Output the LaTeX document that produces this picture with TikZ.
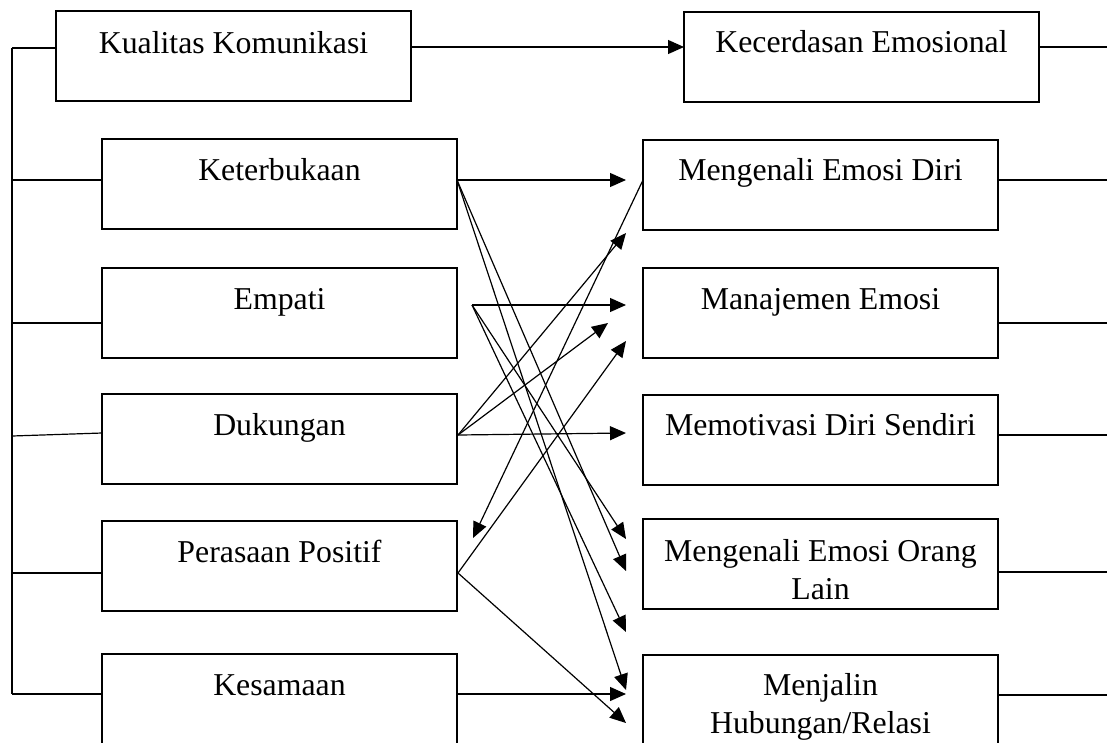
\documentclass[tikz,border=0pt]{standalone}
\usepackage{fontspec}
\setmainfont{Liberation Serif}
\usetikzlibrary{arrows.meta}
\begin{document}
\begin{tikzpicture}[x=1pt,y=-1pt,
  box/.style={draw,line width=1.2pt,rectangle,inner sep=0pt,minimum width=355pt,minimum height=90pt},
  lbl/.style={anchor=base,inner sep=0pt,font=\fontsize{31.8}{38}\selectfont},
  ln/.style={line width=1.2pt},
  arr/.style={line width=1.2pt,-{Triangle[length=16pt,width=14pt]}}]
\useasboundingbox (0,0) rectangle (1107,742);
\clip (0,0) rectangle (1107,742);
% left boxes
\node[box] (kual) at (233.5,56) {};
\node[box] (ket) at (279.5,184) {};
\node[box] (emp) at (279.5,313) {};
\node[box] (duk) at (279.5,439) {};
\node[box] (per) at (279.5,566) {};
\node[box] (kes) at (279.5,699) {};
% right boxes
\node[box] (kec) at (861.5,57) {};
\node[box] (diri) at (820.5,185) {};
\node[box] (man) at (820.5,313) {};
\node[box] (mot) at (820.5,440) {};
\node[box] (ora) at (820.5,564) {};
\node[box] (menj) at (820.5,700) {};
% labels
\node[lbl] (kual-t) at (233.5,53) {Kualitas Komunikasi};
\node[lbl] (ket-t) at (279.5,180) {Keterbukaan};
\node[lbl] (emp-t) at (279.5,309) {Empati};
\node[lbl] (duk-t) at (279.5,435) {Dukungan};
\node[lbl] (per-t) at (279.5,562) {Perasaan Positif};
\node[lbl] (kes-t) at (279.5,695) {Kesamaan};
\node[lbl] (kec-t) at (861.5,52) {Kecerdasan Emosional};
\node[lbl] (diri-t) at (820.5,180) {Mengenali Emosi Diri};
\node[lbl] (man-t) at (820.5,309) {Manajemen Emosi};
\node[lbl] (mot-t) at (820.5,435) {Memotivasi Diri Sendiri};
\node[lbl] (ora-t) at (820.5,561) {\begin{tabular}[t]{@{}c@{}}Mengenali Emosi Orang\\Lain\end{tabular}};
\node[lbl] (menj-t) at (820.5,695) {\begin{tabular}[t]{@{}c@{}}Menjalin\\Hubungan/Relasi\end{tabular}};
% left bracket
\coordinate (L0) at (12,48);
\coordinate (L1) at (12,180);
\coordinate (L2) at (12,323);
\coordinate (L3) at (12,436);
\coordinate (L3b) at (102,433);
\coordinate (L4) at (12,573);
\coordinate (L5) at (12,694);
\draw[ln] (L0) -- (L5);
\draw[ln] (L0) -- (L0 -| kual.west);
\draw[ln] (L1) -- (L1 -| ket.west);
\draw[ln] (L2) -- (L2 -| emp.west);
\draw[ln] (L3) -- (L3b);
\draw[ln] (L4) -- (L4 -| per.west);
\draw[ln] (L5) -- (L5 -| kes.west);
% right lines
\coordinate (R0) at (1107,47);
\coordinate (R1) at (1107,180);
\coordinate (R2) at (1107,323);
\coordinate (R3) at (1107,435);
\coordinate (R4) at (1107,572);
\coordinate (R5) at (1107,695);
\draw[ln] (R0 -| kec.east) -- (R0);
\draw[ln] (R1 -| diri.east) -- (R1);
\draw[ln] (R2 -| man.east) -- (R2);
\draw[ln] (R3 -| mot.east) -- (R3);
\draw[ln] (R4 -| ora.east) -- (R4);
\draw[ln] (R5 -| menj.east) -- (R5);
% sources
\coordinate (kualO) at (411,47);
\coordinate (ketO) at (457,180);
\coordinate (empO) at (472,305);
\coordinate (dukO) at (458,435);
\coordinate (perO) at (458,573);
\coordinate (kesO) at (457,694);
\coordinate (diriO) at (643,180);
% targets
\coordinate (kecI) at (684,47);
\coordinate (t180) at (626,180);
\coordinate (t571) at (626,571);
\coordinate (t690) at (626,690);
\coordinate (t305) at (626,305);
\coordinate (t539) at (626,539);
\coordinate (t632) at (626,632);
\coordinate (t233) at (626,233);
\coordinate (t323) at (608,323);
\coordinate (t433) at (626,433);
\coordinate (t341) at (626,341);
\coordinate (t723) at (626,723);
\coordinate (t693) at (626,694);
\coordinate (perI) at (473,538);
% arrows
\draw[arr] (kualO) -- (kecI);
\draw[arr] (ketO) -- (t180);
\draw[arr] (ketO) -- (t571);
\draw[arr] (ketO) -- (t690);
\draw[arr] (empO) -- (t305);
\draw[arr] (empO) -- (t539);
\draw[arr] (empO) -- (t632);
\draw[arr] (dukO) -- (t233);
\draw[arr] (dukO) -- (t323);
\draw[arr] (dukO) -- (t433);
\draw[arr] (perO) -- (t341);
\draw[arr] (perO) -- (t723);
\draw[arr] (kesO) -- (t693);
\draw[arr] (diriO) -- (perI);
\end{tikzpicture}
\end{document}
